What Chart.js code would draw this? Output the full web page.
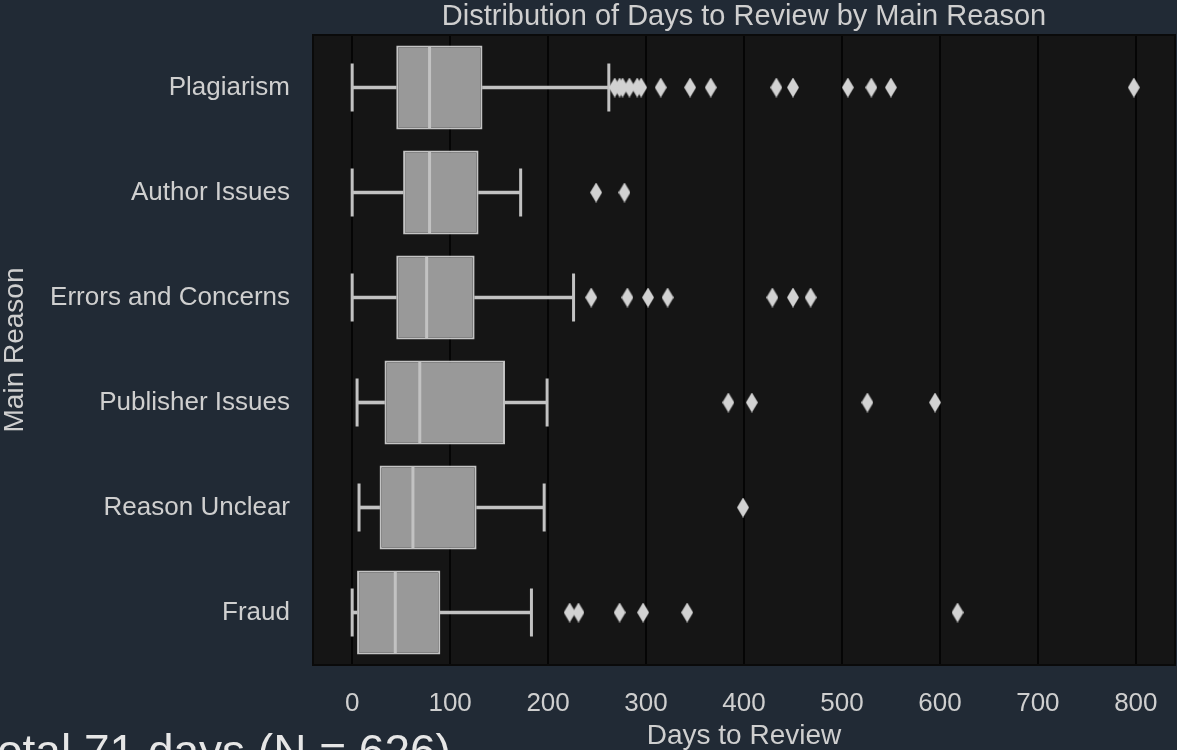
<!DOCTYPE html>
<html>
<head>
<meta charset="utf-8">
<script src="https://cdn.jsdelivr.net/npm/chart.js@4.4.1/dist/chart.umd.min.js"></script>
<style>
  html, body { margin: 0; padding: 0; background: #212a35; overflow: hidden; }
  #wrap { width: 1177px; height: 750px; position: relative; }
</style>
</head>
<body>
<div id="wrap"><canvas id="box"></canvas></div>
<script>
// data
var reasons = ['Plagiarism', 'Author Issues', 'Errors and Concerns', 'Publisher Issues', 'Reason Unclear', 'Fraud'];
var whiskerLow = [0, 0, 0, 5, 7, 0];
var q1 = [45, 52, 45, 33, 28, 5];
var median = [79, 79, 76, 69, 62, 44];
var q3 = [133, 129, 125, 156, 127, 90];
var whiskerHigh = [262, 172, 226, 199, 196, 183];
var outliers = [
  [268, 273, 276, 283, 291, 295, 315, 345, 366, 433, 450, 506, 530, 550, 798],
  [249, 278],
  [244, 281, 302, 322, 429, 450, 468],
  [384, 408, 526, 595],
  [399],
  [222, 231, 273, 297, 342, 618]
];
var xTicks = [0, 100, 200, 300, 400, 500, 600, 700, 800];

var txt = '#cfcfcf';
var lineCol = '#c2c2c2';
var font = 'Liberation Sans, Arial, sans-serif';

// thin diamond like seaborn's "d" marker
var dia = document.createElement('canvas');
dia.width = 12; dia.height = 20;
var dc = dia.getContext('2d');
dc.fillStyle = '#d2d2d2';
dc.beginPath();
dc.moveTo(6, 0); dc.lineTo(12, 10); dc.lineTo(6, 20); dc.lineTo(0, 10);
dc.closePath(); dc.fill();

var outPts = [];
outliers.forEach(function (arr, i) {
  arr.forEach(function (v) { outPts.push({x: v, y: reasons[i]}); });
});
var capPts = [];
reasons.forEach(function (r, i) {
  capPts.push({x: whiskerLow[i], y: r});
  capPts.push({x: whiskerHigh[i], y: r});
});

var bgPlugin = {
  id: 'bg',
  beforeDraw: function (c) {
    var a = c.chartArea, g = c.ctx;
    g.save();
    g.fillStyle = '#151515';
    g.fillRect(a.left, a.top, a.right - a.left, a.bottom - a.top);
    g.restore();
  },
  afterDraw: function (c) {
    var a = c.chartArea, g = c.ctx;
    g.save();
    g.strokeStyle = '#0a0a0a';
    g.lineWidth = 2;
    g.strokeRect(a.left, a.top, a.right - a.left, a.bottom - a.top);
    g.fillStyle = txt;
    g.font = '29px ' + font;
    g.textAlign = 'center';
    g.textBaseline = 'middle';
    g.fillText('Distribution of Days to Review by Main Reason', (a.left + a.right) / 2, 17);
    g.fillStyle = '#e6e6e6';
    g.font = '46px ' + font;
    g.textAlign = 'left';
    g.textBaseline = 'alphabetic';
    g.fillText('otal 71 days (N = 626)', -3, 767);
    g.restore();
  }
};

new Chart(document.getElementById('box'), {
  type: 'bar',
  data: {
    labels: reasons,
    datasets: [
      {
        label: 'outliers', type: 'scatter', data: outPts, order: 1,
        pointStyle: dia, pointRadius: 10, pointHoverRadius: 10
      },
      {
        label: 'median', type: 'scatter', data: reasons.map(function (r, i) { return {x: median[i], y: r}; }),
        order: 2, pointStyle: 'line', rotation: 90, pointRadius: 41, borderColor: lineCol, borderWidth: 3
      },
      {
        label: 'caps', type: 'scatter', data: capPts, order: 3,
        pointStyle: 'line', rotation: 90, pointRadius: 24, borderColor: lineCol, borderWidth: 3
      },
      {
        label: 'box', data: reasons.map(function (r, i) { return [q1[i], q3[i]]; }), order: 4,
        backgroundColor: '#999999', borderColor: '#c4c4c4', borderWidth: 2, borderSkipped: false,
        barPercentage: 0.8, categoryPercentage: 1, grouped: false
      },
      {
        label: 'low whisker', data: reasons.map(function (r, i) { return [whiskerLow[i], q1[i]]; }), order: 5,
        backgroundColor: lineCol, barThickness: 3, grouped: false
      },
      {
        label: 'high whisker', data: reasons.map(function (r, i) { return [q3[i], whiskerHigh[i]]; }), order: 6,
        backgroundColor: lineCol, barThickness: 3, grouped: false
      }
    ]
  },
  options: {
    indexAxis: 'y',
    responsive: true,
    maintainAspectRatio: false,
    animation: false,
    layout: {autoPadding: false, padding: {top: 35, right: 2, left: 0, bottom: 0}},
    plugins: {legend: {display: false}, tooltip: {enabled: false}, title: {display: false}},
    scales: {
      x: {
        type: 'linear', min: -40, max: 840,
        afterFit: function (s) { s.height = 85; s.paddingLeft = 0; s.paddingRight = 0; },
        afterBuildTicks: function (s) { s.ticks = xTicks.map(function (v) { return {value: v}; }); },
        ticks: {color: txt, font: {family: font, size: 26}, padding: 23, includeBounds: false},
        grid: {color: '#050505', lineWidth: 2, drawTicks: false},
        border: {display: false},
        title: {display: true, text: 'Days to Review', color: txt, font: {family: font, size: 28, lineHeight: 1}, padding: {top: 0, bottom: 0}}
      },
      y: {
        type: 'category',
        afterFit: function (s) { s.width = 313; s.paddingTop = 0; s.paddingBottom = 0; },
        ticks: {color: txt, font: {family: font, size: 26}, padding: 23},
        grid: {display: false, drawTicks: false},
        border: {display: false},
        title: {display: true, text: 'Main Reason', color: txt, font: {family: font, size: 28, lineHeight: 1}, padding: {top: 1, bottom: 0}}
      }
    }
  },
  plugins: [bgPlugin]
});
</script>
</body>
</html>
